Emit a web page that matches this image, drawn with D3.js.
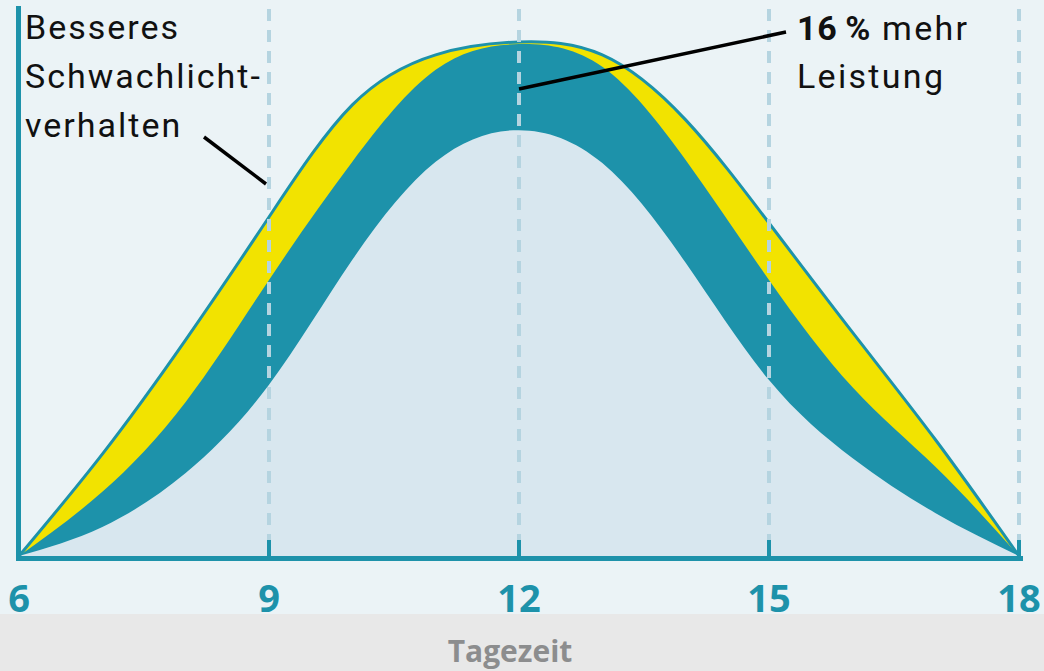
<!DOCTYPE html>
<html>
<head>
<meta charset="utf-8">
<script src="https://cdn.jsdelivr.net/npm/d3@7"></script>
<style>
  body { margin: 0; background: #e8e8e8; }
  svg { display: block; }
</style>
</head>
<body>
<div id="chart"></div>
<script>
// Tageszeit (Stunden) und drei Leistungskurven
var hours = [6, 7, 8, 9, 10, 11, 12, 13, 14, 15, 16, 17, 18];
var standardModul = [0, 6.8, 19.4, 40.0, 69.2, 92.1, 99.5, 91.8, 68.5, 41.1, 22.9, 10.0, 0];
var mehrLeistung = [0, 15.0, 36.0, 64.5, 92.1, 113.6, 119.6, 114.3, 92.5, 64.5, 39.5, 20.8, 0];
var schwachlicht = [0, 23.8, 50.5, 79.2, 105.4, 117.1, 120.1, 117.1, 101.9, 77.8, 52.3, 27.1, 0];
var tickHours = [6, 9, 12, 15, 18];
var gridHours = [9, 12, 15, 18];
var textLinks = ["Besseres", "Schwachlicht-", "verhalten"];
var textRechts = ["16\u2009%", " mehr", "Leistung"];
var achsenTitel = "Tagezeit";

var width = 1044, height = 671;
var teal = "#1d92aa", yellow = "#f2e300", inner = "#d8e7ef", panel = "#ebf3f6";

var svg = d3.select("#chart").append("svg")
  .attr("width", width)
  .attr("height", height);

// Hintergrund
svg.append("rect").attr("width", width).attr("height", 614).attr("fill", panel);
svg.append("rect").attr("y", 614).attr("width", width).attr("height", height - 614).attr("fill", "#e8e8e8");

var x = d3.scaleLinear().domain([6, 18]).range([19, 1019]);
var y = d3.scaleLinear().domain([0, 120]).range([556, 556 - 120 * 4.28]);
var curve = d3.curveNatural;

function areaFor(values) {
  return d3.area()
    .x((d, i) => x(hours[i]))
    .y0(y(0))
    .y1(d => y(d))
    .curve(curve)(values);
}

// Flächen: gelb aussen, dann teal, dann hell innen
svg.append("path").attr("d", areaFor(schwachlicht)).attr("fill", yellow);
svg.append("path").attr("d", areaFor(mehrLeistung)).attr("fill", teal);
svg.append("path").attr("d", areaFor(standardModul)).attr("fill", inner);

// Randlinie oben
var line = d3.line()
  .x((d, i) => x(hours[i]))
  .y(d => y(d))
  .curve(curve);
svg.append("path")
  .attr("d", line(schwachlicht))
  .attr("fill", "none")
  .attr("stroke", teal)
  .attr("stroke-width", 3);

// gestrichelte Hilfslinien
svg.selectAll(".grid")
  .data(gridHours)
  .join("line")
  .attr("class", "grid")
  .attr("x1", d => x(d)).attr("x2", d => x(d))
  .attr("y1", 9).attr("y2", 540)
  .attr("stroke", "#b5d4e0")
  .attr("stroke-width", 4)
  .attr("stroke-dasharray", "12,9");

// kleine Ticks
svg.selectAll(".tick")
  .data(gridHours)
  .join("line")
  .attr("class", "tick")
  .attr("x1", d => x(d)).attr("x2", d => x(d))
  .attr("y1", 540).attr("y2", 558)
  .attr("stroke", teal)
  .attr("stroke-width", 4);

// Achsen
svg.append("line")
  .attr("x1", 16).attr("x2", 1023)
  .attr("y1", 558.5).attr("y2", 558.5)
  .attr("stroke", teal).attr("stroke-width", 5);
svg.append("line")
  .attr("x1", 18.5).attr("x2", 18.5)
  .attr("y1", 6).attr("y2", 561)
  .attr("stroke", teal).attr("stroke-width", 5);

// Achsenbeschriftung
svg.selectAll(".lbl")
  .data(tickHours)
  .join("text")
  .attr("class", "lbl")
  .attr("x", d => x(d))
  .attr("y", 612)
  .attr("text-anchor", "middle")
  .attr("font-family", "'Open Sans', sans-serif")
  .attr("font-weight", "bold")
  .attr("font-size", 38)
  .attr("fill", teal)
  .text(d => d);

svg.append("text")
  .attr("x", 510).attr("y", 662)
  .attr("text-anchor", "middle")
  .attr("font-family", "'Open Sans', sans-serif")
  .attr("font-weight", "bold")
  .attr("font-size", 30)
  .attr("fill", "#8c8d8e")
  .text(achsenTitel);

// Anmerkung links
var tl = svg.append("text")
  .attr("font-family", "Roboto, sans-serif")
  .attr("font-size", 34)
  .attr("letter-spacing", 2.0)
  .attr("fill", "#111");
textLinks.forEach((t, i) => {
  tl.append("tspan").attr("x", 25).attr("y", 39 + i * 49).text(t);
});
svg.append("line")
  .attr("x1", 204).attr("y1", 137)
  .attr("x2", 266).attr("y2", 184)
  .attr("stroke", "#000").attr("stroke-width", 3.5);

// Anmerkung rechts
svg.append("line")
  .attr("x1", x(12)).attr("y1", 89)
  .attr("x2", 786).attr("y2", 32)
  .attr("stroke", "#000").attr("stroke-width", 3.5);
var tr = svg.append("text")
  .attr("x", 797).attr("y", 40)
  .attr("font-family", "Roboto, sans-serif")
  .attr("font-size", 34)
  .attr("letter-spacing", 2.3)
  .attr("fill", "#111");
tr.append("tspan").attr("font-weight", "bold").attr("letter-spacing", 0.8).text(textRechts[0]);
tr.append("tspan").text(textRechts[1]);
svg.append("text")
  .attr("x", 797).attr("y", 88)
  .attr("font-family", "Roboto, sans-serif")
  .attr("font-size", 34)
  .attr("letter-spacing", 2.3)
  .attr("fill", "#111")
  .text(textRechts[2]);
</script>
</body>
</html>
